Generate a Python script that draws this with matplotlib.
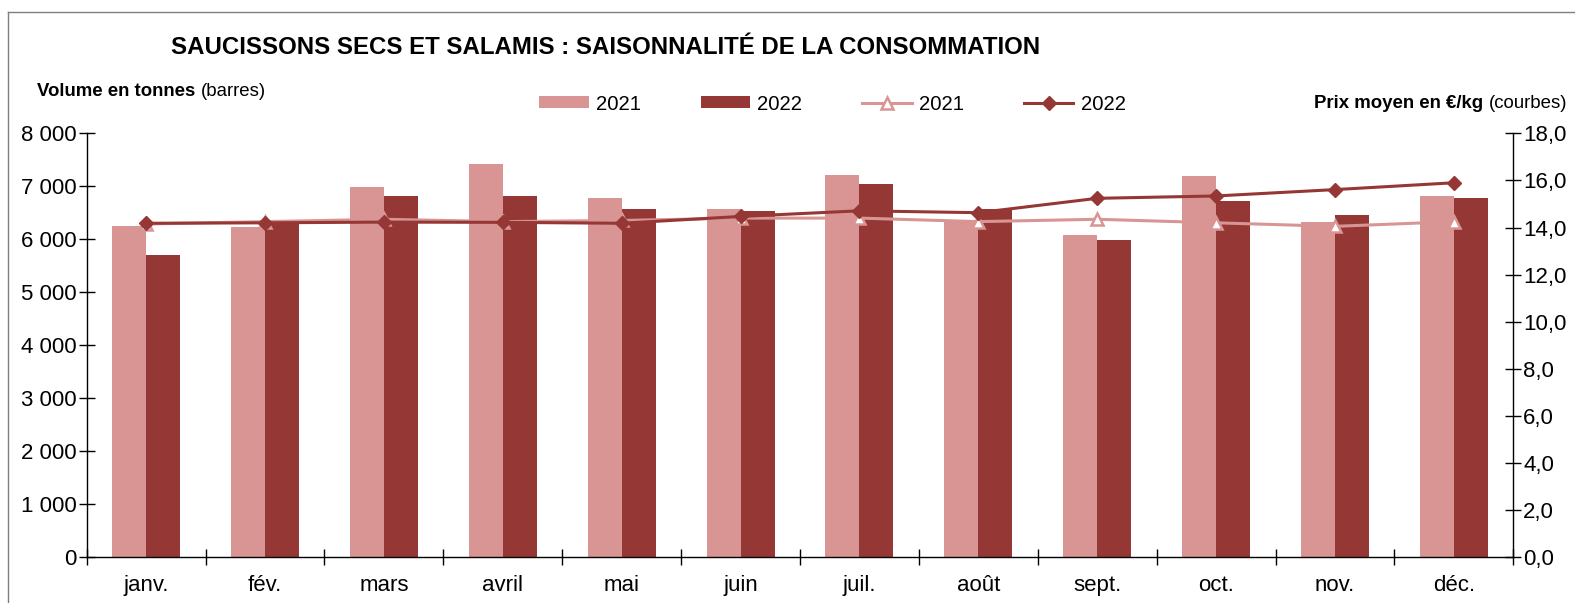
import matplotlib
matplotlib.use("Agg")
import matplotlib.pyplot as plt
from matplotlib.lines import Line2D
from matplotlib.ticker import FuncFormatter, FixedLocator
import numpy as np

plt.rcParams['font.family'] = ['Liberation Sans', 'DejaVu Sans']

months = ["janv.", "fév.", "mars", "avril", "mai", "juin",
          "juil.", "août", "sept.", "oct.", "nov.", "déc."]

# Volumes (tonnes)
vol_2021 = [6250, 6230, 6995, 7430, 6785, 6570, 7215, 6365, 6085, 7190, 6325, 6810]
vol_2022 = [5710, 6310, 6810, 6810, 6570, 6535, 7040, 6570, 5980, 6720, 6455, 6785]

# Average price (€/kg)
prix_2021 = [14.15, 14.25, 14.35, 14.25, 14.30, 14.40, 14.40, 14.25, 14.35, 14.20, 14.05, 14.25]
prix_2022 = [14.18, 14.20, 14.23, 14.22, 14.18, 14.47, 14.71, 14.63, 15.24, 15.34, 15.61, 15.90]

c_light = "#D99594"
c_dark = "#953735"

W, H = 1575, 603
fig = plt.figure(figsize=(W / 100, H / 100), dpi=100)

ax = fig.add_axes([86.7 / W, 1 - 557.3 / H, (1513.3 - 86.7) / W, (557.3 - 133.3) / H])
x = np.arange(len(months))
bw = 0.286
ax.bar(x - bw / 2, vol_2021, bw, color=c_light, label="2021", zorder=2)
ax.bar(x + bw / 2, vol_2022, bw, color=c_dark, label="2022", zorder=2)

ax.set_xlim(-0.5, len(months) - 0.5)
ax.set_ylim(0, 8000)
ax.yaxis.set_major_locator(FixedLocator(np.arange(0, 8001, 1000)))
ax.yaxis.set_major_formatter(FuncFormatter(lambda v, p: f"{int(v):,}".replace(",", " ")))

ax.xaxis.set_major_locator(FixedLocator(np.arange(-0.5, len(months), 1.0)))
ax.xaxis.set_major_formatter(FuncFormatter(lambda v, p: ""))
ax.set_xticks(x, minor=True)
ax.set_xticklabels(months, minor=True, fontsize=16)
ax.tick_params(axis="x", which="minor", length=0, pad=13)
ax.tick_params(axis="x", which="major", direction="inout", length=11, width=1)
ax.tick_params(axis="y", direction="inout", length=11, width=1, labelsize=16, pad=1.5)

for s in ("top", "right"):
    ax.spines[s].set_visible(False)
ax.spines["left"].set_linewidth(1)
ax.spines["bottom"].set_linewidth(1)

ax2 = ax.twinx()
ax2.plot(x, prix_2021, color=c_light, lw=2.2, marker="^", markersize=9,
         markerfacecolor="white", markeredgecolor=c_light, markeredgewidth=1.8,
         label="2021", zorder=3)
ax2.plot(x, prix_2022, color=c_dark, lw=2.2, marker="D", markersize=7.5,
         markerfacecolor=c_dark, markeredgecolor=c_dark, label="2022", zorder=4)
ax2.set_ylim(0, 18)
ax2.yaxis.set_major_locator(FixedLocator(np.arange(0, 18.1, 2)))
ax2.yaxis.set_major_formatter(FuncFormatter(lambda v, p: f"{v:.1f}".replace(".", ",")))
ax2.tick_params(axis="y", direction="inout", length=11, width=1, labelsize=16, pad=1.5)
for s in ("top", "left", "bottom"):
    ax2.spines[s].set_visible(False)
ax2.spines["right"].set_linewidth(1)

# Title
fig.text(171 / W, 1 - 48 / H, "SAUCISSONS SECS ET SALAMIS : SAISONNALITÉ DE LA CONSOMMATION",
         fontsize=17.3, fontweight="bold", ha="left", va="center")

# Axis captions (bold part + plain part)
t1 = fig.text(37 / W, 1 - 91 / H, "Volume en tonnes ", fontsize=13.4, fontweight="bold",
              ha="left", va="center")
ax.annotate("(barres)", xy=(1, 0), xycoords=t1, fontsize=13.4, ha="left", va="bottom",
            annotation_clip=False)

t2 = fig.text(1567 / W, 1 - 103 / H, "(courbes)", fontsize=13.4, ha="right", va="center")
ax.annotate("Prix moyen en €/kg ", xy=(0, 0), xycoords=t2, fontsize=13.4, fontweight="bold",
            ha="right", va="bottom", annotation_clip=False)

# Legend
h_bars, l_bars = ax.get_legend_handles_labels()
h_lines, l_lines = ax2.get_legend_handles_labels()
fig.legend(h_bars + h_lines, l_bars + l_lines, ncol=4, loc="center left",
           bbox_to_anchor=(539 / W, 1 - 104 / H), frameon=False, fontsize=14.6,
           handlelength=2.45, handleheight=0.55, handletextpad=0.35,
           columnspacing=2.95, borderpad=0, borderaxespad=0, numpoints=1)

# Frame around the chart
fig.add_artist(Line2D([8 / W, 1], [1 - 12 / H, 1 - 12 / H], color="#7f7f7f", lw=1))
fig.add_artist(Line2D([8 / W, 8 / W], [0, 1 - 12 / H], color="#7f7f7f", lw=1))

fig.savefig("out.png", dpi=100)
